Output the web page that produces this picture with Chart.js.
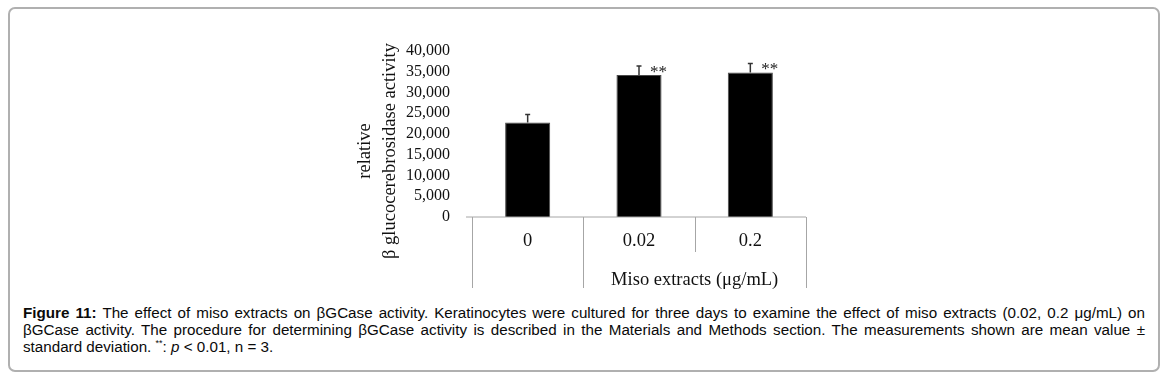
<!DOCTYPE html>
<html>
<head>
<meta charset="utf-8">
<script src="https://cdn.jsdelivr.net/npm/chart.js@4"></script>
<style>
  html, body { margin: 0; padding: 0; background: #fff; }
  body { width: 1164px; height: 379px; position: relative; overflow: hidden; }
  #frame { position: absolute; left: 8px; top: 7px; width: 1152px; height: 365px; border: 2px solid #b0b0b0; border-radius: 7px; box-sizing: border-box; }
  #chart { position: absolute; left: 0; top: 0; }
  #caption { position: absolute; left: 23px; top: 304px; width: 1122px; font-family: "Liberation Sans", Arial, sans-serif; font-size: 15.2px; line-height: 17px; color: #0a0a0a; }
  #caption .j { text-align: justify; text-align-last: justify; white-space: nowrap; }
  #caption sup { font-size: 9px; line-height: 0; }
</style>
</head>
<body>
<div id="frame"></div>
<canvas id="chart" width="1164" height="300"></canvas>
<div id="caption">
  <div class="j"><b>Figure 11:</b> The effect of miso extracts on βGCase activity. Keratinocytes were cultured for three days to examine the effect of miso extracts (0.02, 0.2 μg/mL) on</div>
  <div class="j">βGCase activity. The procedure for determining βGCase activity is described in the Materials and Methods section. The measurements shown are mean value ±</div>
  <div>standard deviation. <sup>**</sup>: <i>p</i> &lt; 0.01, n = 3.</div>
</div>
<script>
// data
const categories = ['0', '0.02', '0.2'];
const meanValues = [22800, 34200, 34800];
const sdValues = [1900, 2200, 2200];
const marks = ['', '**', '**'];
// category groups on the second axis row
const groupLabels = ['', 'Miso extracts (μg/mL)'];
const groupStart = [0, 1];
const groupEnd = [0, 2];
const yTitleLines = ['relative', 'β glucocerebrosidase activity'];

const serif = '"Liberation Serif", "Times New Roman", serif';
const lineGray = '#a6a6a6';

const extras = {
  id: 'extras',
  afterDatasetsDraw(chart) {
    const ctx = chart.ctx;
    const y = chart.scales.y;
    const meta = chart.getDatasetMeta(0);
    ctx.save();
    meta.data.forEach((bar, i) => {
      const top = y.getPixelForValue(meanValues[i] + sdValues[i]);
      ctx.strokeStyle = '#333';
      ctx.lineWidth = 1.5;
      ctx.beginPath();
      ctx.moveTo(bar.x, bar.y);
      ctx.lineTo(bar.x, top);
      ctx.moveTo(bar.x - 2.5, top);
      ctx.lineTo(bar.x + 2.5, top);
      ctx.stroke();
      if (marks[i]) {
        ctx.fillStyle = '#222';
        ctx.font = '17px ' + serif;
        ctx.textAlign = 'left';
        ctx.textBaseline = 'alphabetic';
        ctx.fillText(marks[i], bar.x + 11, top + 11);
      }
    });
    ctx.restore();
  },
  afterDraw(chart) {
    const ctx = chart.ctx;
    const x = chart.scales.x;
    const y = chart.scales.y;
    const area = chart.chartArea;
    const y0 = y.getPixelForValue(0);
    const half = (x.getPixelForTick(1) - x.getPixelForTick(0)) / 2;
    ctx.save();
    ctx.strokeStyle = lineGray;
    ctx.lineWidth = 1;
    // category axis line
    ctx.beginPath();
    ctx.moveTo(area.left - 6, y0);
    ctx.lineTo(area.right, y0);
    ctx.stroke();
    // separators: long at group edges, short inside a group
    for (let i = 0; i <= categories.length; i++) {
      const px = Math.round(x.getPixelForTick(0) - half + i * half * 2) + 0.5;
      const edge = groupStart.includes(i) || i === categories.length;
      ctx.beginPath();
      ctx.moveTo(px, y0);
      ctx.lineTo(px, y0 + (edge ? 71 : 35));
      ctx.stroke();
    }
    // group labels
    ctx.fillStyle = '#111';
    ctx.font = '18.5px ' + serif;
    ctx.textAlign = 'center';
    ctx.textBaseline = 'middle';
    groupLabels.forEach((g, k) => {
      if (!g) return;
      const cx = (x.getPixelForTick(groupStart[k]) + x.getPixelForTick(groupEnd[k])) / 2;
      ctx.fillText(g, cx, y0 + 63);
    });
    // y axis title, two rotated lines
    ctx.translate(0, 151);
    ctx.rotate(-Math.PI / 2);
    ctx.textBaseline = 'alphabetic';
    ctx.fillText(yTitleLines[0], 0, 370);
    ctx.fillText(yTitleLines[1], 0, 395);
    ctx.restore();
  }
};

new Chart(document.getElementById('chart'), {
  type: 'bar',
  data: {
    labels: categories,
    datasets: [{
      data: meanValues,
      backgroundColor: '#000',
      borderColor: '#4a4a4a',
      borderWidth: 1,
      categoryPercentage: 1,
      barPercentage: 0.405
    }]
  },
  options: {
    responsive: false,
    animation: false,
    layout: { padding: { left: 392, right: 358, top: 51, bottom: 42 } },
    plugins: { legend: { display: false }, tooltip: { enabled: false } },
    scales: {
      x: {
        grid: { display: false, drawTicks: false },
        border: { display: false },
        ticks: { color: '#111', padding: 13, font: { family: serif, size: 18.5 } },
        afterFit(scale) { scale.height = 41; }
      },
      y: {
        min: 0,
        max: 40000,
        grid: { display: false, drawTicks: false },
        border: { display: false },
        ticks: {
          stepSize: 5000,
          autoSkip: false,
          color: '#111',
          padding: 22,
          font: { family: serif, size: 16 },
          callback: v => v.toLocaleString('en-US')
        },
        afterFit(scale) { scale.width = 80; }
      }
    }
  },
  plugins: [extras]
});
</script>
</body>
</html>
